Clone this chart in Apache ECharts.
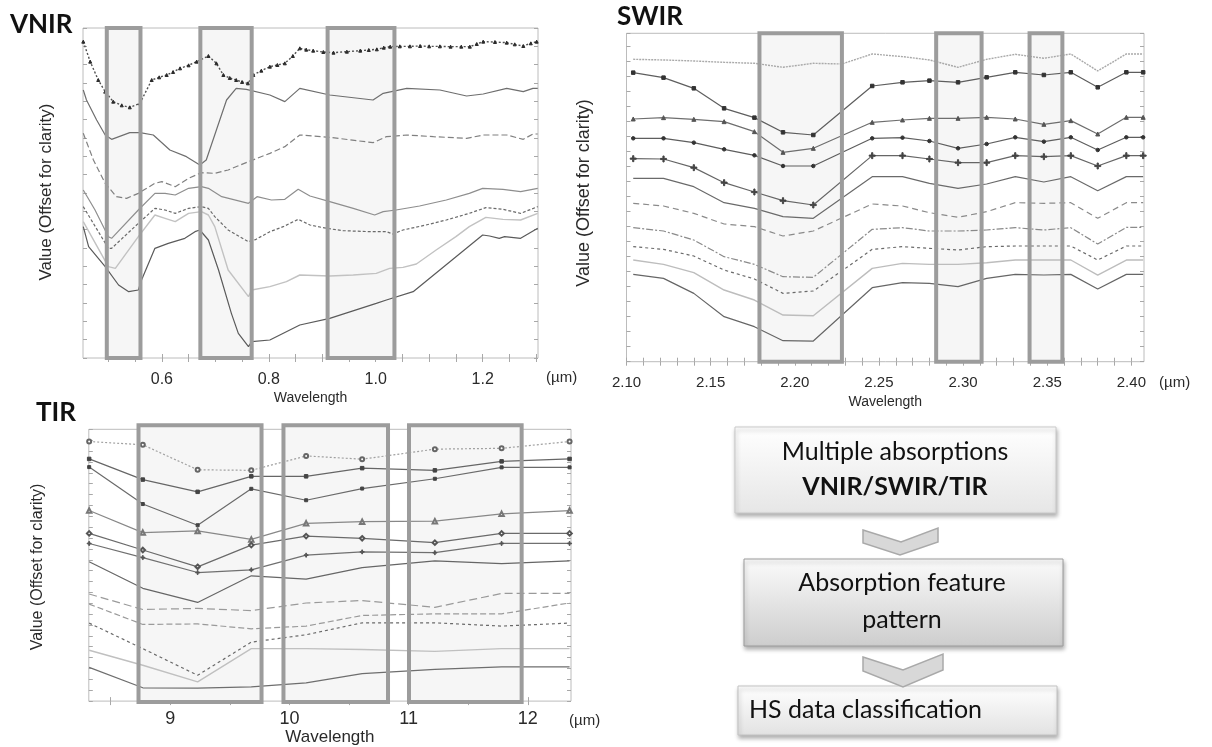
<!DOCTYPE html>
<html>
<head>
<meta charset="utf-8">
<title>Multiple absorptions VNIR/SWIR/TIR</title>
<script src="https://cdn.jsdelivr.net/npm/echarts@6/dist/echarts.min.js"></script>
<style>
  html, body { margin: 0; padding: 0; background: #fff; }
  #chart { width: 1212px; height: 747px; }
</style>
</head>
<body>
<div id="chart"></div>
<script>
// ---------- VNIR : [wavelength µm, offset value] ----------
const vnirBands = [[0.497, 0.560], [0.672, 0.768], [0.910, 1.035]];
const vnirTicks = [0.6, 0.8, 1.0, 1.2];
const vnirDotted = [[0.453,94.9],[0.466,88.9],[0.481,83.4],[0.494,79.9],[0.509,76.9],[0.525,75.8],[0.540,75.2],[0.559,76.4],[0.581,83.4],[0.595,84.2],[0.609,84.9],[0.621,85.8],[0.634,86.9],[0.650,87.8],[0.665,88.9],[0.687,90.6],[0.702,88.4],[0.715,84.9],[0.727,84.0],[0.739,83.4],[0.750,82.8],[0.761,82.4],[0.771,84.9],[0.786,86.2],[0.802,87.4],[0.816,87.9],[0.830,88.4],[0.845,90.6],[0.858,92.9],[0.870,92.5],[0.883,92.2],[0.902,91.8],[0.921,91.6],[0.946,91.9],[0.971,92.2],[0.987,92.4],[1.002,92.6],[1.015,93.1],[1.027,93.4],[1.045,93.5],[1.064,93.5],[1.083,93.6],[1.100,93.5],[1.120,93.5],[1.140,93.4],[1.160,93.4],[1.176,93.4],[1.189,94.2],[1.201,94.9],[1.223,94.8],[1.245,94.6],[1.260,94.1],[1.276,93.6],[1.290,94.4],[1.301,94.9]];
const vnirSolid = [[0.453,80.4],[0.459,77.4],[0.478,71.4],[0.494,66.9],[0.506,65.6],[0.540,67.6],[0.559,67.6],[0.584,66.9],[0.615,62.4],[0.646,60.4],[0.671,57.9],[0.683,59.4],[0.702,68.4],[0.721,77.4],[0.739,80.9],[0.758,80.6],[0.802,78.9],[0.830,76.9],[0.858,80.9],[0.914,78.9],[0.995,77.4],[1.014,79.4],[1.058,80.9],[1.120,80.4],[1.170,78.6],[1.201,79.2],[1.245,80.9],[1.276,79.9],[1.294,80.9],[1.303,80.9]];
const vnirDashed = [[0.453,67.4],[0.472,59.4],[0.494,52.4],[0.515,48.4],[0.534,47.9],[0.556,49.4],[0.587,52.4],[0.600,52.9],[0.625,51.4],[0.650,53.9],[0.674,55.6],[0.699,55.4],[0.724,56.4],[0.762,58.9],[0.802,61.4],[0.830,63.4],[0.858,66.9],[0.914,66.2],[0.995,64.6],[1.020,66.4],[1.058,66.9],[1.108,66.4],[1.170,65.9],[1.201,66.9],[1.245,66.9],[1.276,65.6],[1.294,67.2],[1.303,67.2]];
const vnirGrey = [[0.453,50.4],[0.475,44.4],[0.500,36.4],[0.506,35.9],[0.556,44.4],[0.587,49.4],[0.606,49.4],[0.625,48.9],[0.650,50.9],[0.674,51.4],[0.687,50.9],[0.712,48.4],[0.762,46.4],[0.778,48.4],[0.805,47.4],[0.830,47.6],[0.855,50.6],[0.877,48.6],[0.914,46.9],[0.958,44.9],[0.998,42.9],[1.014,43.9],[1.038,44.4],[1.082,45.6],[1.132,47.4],[1.175,49.4],[1.200,50.9],[1.238,50.6],[1.271,49.9],[1.303,50.9]];
const vnirShort = [[0.453,45.4],[0.500,32.9],[0.506,32.9],[0.556,40.4],[0.587,44.9],[0.606,44.4],[0.625,43.4],[0.650,44.9],[0.674,45.4],[0.687,44.9],[0.699,42.4],[0.724,38.4],[0.762,34.9],[0.775,35.5],[0.802,37.9],[0.827,39.4],[0.855,41.6],[0.877,39.9],[0.908,38.9],[0.939,38.2],[0.989,37.9],[1.020,37.9],[1.032,37.2],[1.051,38.4],[1.094,39.9],[1.132,41.4],[1.175,43.4],[1.206,45.1],[1.238,44.6],[1.271,43.4],[1.303,45.4]];
const vnirLight = [[0.453,40.9],[0.500,27.4],[0.513,26.9],[0.556,36.4],[0.587,42.9],[0.606,41.9],[0.625,40.9],[0.650,43.4],[0.674,43.9],[0.687,42.9],[0.699,39.4],[0.724,26.4],[0.762,18.4],[0.768,20.4],[0.802,21.4],[0.833,22.9],[0.858,24.9],[0.914,24.6],[0.958,24.9],[1.001,25.4],[1.026,26.9],[1.051,27.2],[1.076,28.2],[1.113,32.4],[1.150,36.4],[1.175,39.4],[1.206,42.2],[1.238,41.6],[1.271,41.4],[1.303,43.4]];
const vnirDark = [[0.453,39.4],[0.463,33.4],[0.494,27.4],[0.519,21.9],[0.538,19.9],[0.556,20.4],[0.562,23.4],[0.587,32.9],[0.612,34.4],[0.643,35.9],[0.662,37.9],[0.671,38.4],[0.687,35.4],[0.706,26.4],[0.730,13.4],[0.743,7.4],[0.762,3.4],[0.768,4.9],[0.802,5.4],[0.858,9.9],[0.914,11.9],[1.001,16.4],[1.020,17.4],[1.070,19.9],[1.200,36.9],[1.213,36.6],[1.231,35.9],[1.241,36.4],[1.271,35.9],[1.303,38.9]];

// ---------- SWIR ----------
const swirBands = [[2.179, 2.228], [2.284, 2.311], [2.3395, 2.359]];
const swirTicks = [2.10, 2.15, 2.20, 2.25, 2.30, 2.35, 2.40];
const swirWl = [2.104, 2.122, 2.140, 2.158, 2.176, 2.193, 2.211, 2.228, 2.246, 2.264, 2.280, 2.297, 2.314, 2.331, 2.348, 2.364, 2.380, 2.397, 2.407];
const swirA = [90.7, 90.5, 90.2, 89.8, 89.5, 88.3, 89.5, 89.3, 92.3, 91.5, 90.5, 88.3, 90.7, 92.2, 91.0, 92.3, 87.2, 92.3, 92.3];
const swirB = [86.7, 85.2, 82.0, 76.0, 73.2, 68.8, 68.0, null, 82.7, 83.8, 84.3, 83.8, 85.3, 86.8, 86.0, 86.8, 82.3, 86.8, 86.8];
const swirC = [72.8, 73.2, 72.7, 72.0, 69.0, 62.8, 64.0, null, 71.8, 72.5, 73.0, 73.0, 73.3, 72.8, 71.2, 72.3, 68.3, 73.3, 73.3];
const swirD = [67.0, 67.0, 65.7, 63.7, 61.9, 58.7, 58.7, null, 67.0, 67.2, 66.2, 64.0, 65.3, 67.3, 66.0, 67.3, 63.5, 67.3, 67.3];
const swirE = [60.9, 60.8, 58.2, 53.7, 50.9, 48.3, 47.0, null, 61.8, 61.8, 60.8, 59.7, 59.7, 61.8, 61.5, 61.8, 58.7, 61.8, 61.8];
const swirF = [55.0, 55.0, 52.5, 47.7, 46.0, 43.5, 43.0, null, 55.5, 55.5, 53.5, 52.0, 53.3, 55.5, 53.9, 55.5, 51.3, 55.5, 55.5];
const swirG = [47.5, 46.7, 44.5, 41.3, 40.5, 37.7, 39.2, null, 47.3, 46.7, 44.7, 43.3, 45.0, 47.7, 47.5, 47.7, 43.0, 47.7, 47.7];
const swirH = [40.2, 39.2, 36.5, 31.5, 29.2, 25.5, 25.3, null, 39.7, 40.2, 39.2, 39.2, 39.5, 40.2, 39.5, 40.2, 35.3, 40.3, 40.3];
const swirI = [34.5, 33.7, 31.7, 27.5, 24.8, 20.5, 21.2, null, 33.7, 34.5, 34.0, 33.5, 34.5, 34.7, 34.7, 34.7, 30.5, 34.7, 34.7];
const swirJ = [30.5, 29.2, 26.7, 21.5, 18.5, 14.0, 13.8, null, 28.0, 29.5, 29.2, 29.2, 29.7, 30.5, 30.5, 30.5, 26.0, 30.5, 30.5];
const swirK = [26.2, 25.0, 20.5, 13.5, 10.5, 6.3, 6.2, null, 22.2, 23.7, 23.5, 22.5, 25.0, 26.2, 26.0, 26.2, 21.8, 26.2, 26.2];

// ---------- TIR ----------
const tirBands = [[8.734, 9.766], [9.950, 10.827], [11.003, 11.948]];
const tirTicks = [9, 10, 11, 12];
const tirWl = [8.32, 8.77, 9.23, 9.68, 10.14, 10.61, 11.22, 11.78, 12.35];
const tir1 = [95.5, 94.3, 85.1, 84.9, 90.2, 89.0, 92.7, 93.0, 95.5];
const tir2 = [89.1, 81.5, 77.0, 82.7, 82.7, 85.7, 84.9, 88.2, 89.1];
const tir3 = [86.1, 72.5, 64.7, 78.1, 73.9, 78.2, 81.8, 86.0, 86.0];
const tir4 = [70.1, 62.0, 62.6, 59.5, 65.4, 66.0, 66.2, 68.9, 70.1];
const tir5 = [61.7, 55.6, 49.4, 57.4, 60.7, 59.9, 58.3, 61.7, 61.7];
const tir6 = [58.0, 52.8, 47.3, 48.3, 53.7, 54.9, 54.6, 58.0, 58.0];
const tir7 = [51.3, 41.5, 36.3, 46.1, 44.9, 49.1, 51.6, 50.6, 51.6];
const tir8 = [39.4, 33.7, 34.1, 33.3, 36.1, 37.0, 34.5, 39.6, 39.6];
const tir9 = [35.7, 28.2, 28.4, 26.6, 27.6, 31.5, 32.1, 32.1, 36.1];
const tir10 = [28.7, 19.3, 9.5, 21.7, 24.4, 28.8, 28.8, 27.6, 28.7];
const tir11 = [18.7, 13.2, 7.1, 19.3, 19.3, 19.0, 18.3, 19.3, 19.3];
const tir12 = [12.4, 4.9, 4.8, 5.2, 6.7, 10.1, 11.7, 12.6, 12.6];

const chart = echarts.init(document.getElementById('chart'));

const FRAME = '#bcbcbc';
const TICK = '#a8a8a8';
const TXT = '#2a2a2a';
const AXFONT = '"Liberation Sans", Arial, sans-serif';
const PLUS = 'path://M4,0h2v4h4v2h-4v4h-2v-4h-4v-2h4z';

// panel layout (pixels) and axis ranges
const panels = [
  {grid: {left: 83, top: 28, width: 455, height: 330}, x: [0.4525, 1.3035], y: [0, 99],
   labels: vnirTicks, step: 0.05, digits: 1, yStep: 5.5, font: 16, margin: 14, nameGap: 33, nameSize: 14, bands: vnirBands, pad: 0},
  {grid: {left: 626.5, top: 33.3, width: 517.5, height: 328.4}, x: [2.10, 2.4075], y: [0, 98.5],
   labels: swirTicks, step: 0.01, digits: 2, yStep: 4.5, font: 15, margin: 14, nameGap: 33, nameSize: 14, bands: swirBands, pad: 0},
  {grid: {left: 88.8, top: 429.3, width: 482.2, height: 273.4}, x: [8.317, 12.362], y: [0, 100],
   labels: tirTicks, step: 0.5, digits: 0, yStep: 4, font: 18, margin: 9, nameGap: 21, nameSize: 17, bands: tirBands, pad: 4}
];

function tickPositions(min, max, step) {
  const out = [];
  for (let v = Math.ceil(min / step - 1e-6) * step; v <= max + 1e-9; v += step) out.push(+v.toFixed(4));
  return out;
}

const grids = [], xAxes = [], yAxes = [];
panels.forEach((p, i) => {
  grids.push(Object.assign({show: true, borderColor: FRAME, borderWidth: 1, backgroundColor: '#fff'}, p.grid));
  const ticks = tickPositions(p.x[0], p.x[1], p.step);
  const baseX = {
    type: 'value', gridIndex: i, min: p.x[0], max: p.x[1],
    axisLine: {show: false}, splitLine: {show: false},
    axisTick: {show: true, inside: true, length: 4, customValues: ticks, lineStyle: {color: TICK}}
  };
  xAxes[i] = Object.assign({}, baseX, {
    position: 'bottom', name: 'Wavelength', nameLocation: 'middle', nameGap: p.nameGap,
    nameTextStyle: {color: TXT, fontSize: p.nameSize, fontFamily: AXFONT},
    axisLabel: {show: true, customValues: p.labels, margin: p.margin, color: TXT, fontSize: p.font, fontFamily: AXFONT,
      formatter: v => Number(v).toFixed(p.digits)}
  });
  xAxes[i + 3] = Object.assign({}, baseX, {position: 'top', axisLabel: {show: false}});
  const baseY = {
    type: 'value', gridIndex: i, min: p.y[0], max: p.y[1], interval: p.yStep,
    axisLine: {show: false}, splitLine: {show: false}, axisLabel: {show: false},
    axisTick: {show: true, inside: true, length: 4, lineStyle: {color: TICK}}
  };
  yAxes[i] = Object.assign({}, baseY, {position: 'left'});
  yAxes[i + 3] = Object.assign({}, baseY, {position: 'right'});
});

// highlighted absorption windows
function bandSeries(p, i, fill) {
  return {
    type: 'custom', xAxisIndex: i, yAxisIndex: i, silent: true, z: fill ? 1 : 6,
    data: p.bands,
    renderItem(params, api) {
      const a = api.coord([api.value(0), p.y[0]]);
      const b = api.coord([api.value(1), p.y[0]]);
      const cs = params.coordSys;
      return {
        type: 'rect',
        shape: {x: a[0], y: cs.y - p.pad, width: b[0] - a[0], height: cs.height + p.pad + (p.pad ? 1 : 0)},
        style: fill ? {fill: '#f6f6f6'} : {fill: 'none', stroke: '#9c9c9c', lineWidth: 4}
      };
    }
  };
}

function line(i, data, color, opt) {
  opt = opt || {};
  return {
    type: 'line', xAxisIndex: i, yAxisIndex: i, data, z: 3, silent: true,
    connectNulls: true, showAllSymbol: true,
    symbol: opt.symbol || 'none', symbolSize: opt.size || 4,
    itemStyle: {color: opt.markColor || color, borderColor: opt.markColor || color, borderWidth: 1},
    lineStyle: {color, width: opt.width || 1.2, type: opt.dash || 'solid'}
  };
}
const zip = (xs, ys) => xs.map((x, k) => [x, ys[k]]);

const series = [];
panels.forEach((p, i) => series.push(bandSeries(p, i, true)));

// VNIR
series.push(
  line(0, vnirDotted, '#505050', {dash: [2, 2], width: 1.4, symbol: 'triangle', size: 3, markColor: '#2a2a2a'}),
  line(0, vnirSolid, '#6e6e6e'),
  line(0, vnirDashed, '#808080', {dash: [6, 3]}),
  line(0, vnirGrey, '#8e8e8e'),
  line(0, vnirShort, '#6a6a6a', {dash: [3, 2]}),
  line(0, vnirLight, '#c2c2c2', {width: 1.4}),
  line(0, vnirDark, '#5a5a5a')
);

// SWIR
series.push(
  line(1, zip(swirWl, swirA), '#a9a9a9', {dash: [2, 1], width: 1.4}),
  line(1, zip(swirWl, swirB), '#5e5e5e', {symbol: 'rect', size: 3.5, markColor: '#333'}),
  line(1, zip(swirWl, swirC), '#6e6e6e', {symbol: 'triangle', size: 4, markColor: '#555'}),
  line(1, zip(swirWl, swirD), '#5e5e5e', {symbol: 'circle', size: 3.5, markColor: '#333'}),
  line(1, zip(swirWl, swirE), '#666666', {symbol: PLUS, size: 6, markColor: '#444'}),
  line(1, zip(swirWl, swirF), '#6a6a6a'),
  line(1, zip(swirWl, swirG), '#8a8a8a', {dash: [6, 4]}),
  line(1, zip(swirWl, swirH), '#8a8a8a', {dash: [7, 2, 2, 2]}),
  line(1, zip(swirWl, swirI), '#6a6a6a', {dash: [3, 3]}),
  line(1, zip(swirWl, swirJ), '#bdbdbd', {width: 1.4}),
  line(1, zip(swirWl, swirK), '#666666')
);

// TIR
series.push(
  line(2, zip(tirWl, tir1), '#a0a0a0', {dash: [2, 2], symbol: 'emptyCircle', size: 4, markColor: '#666'}),
  line(2, zip(tirWl, tir2), '#666666', {symbol: 'rect', size: 3.5, markColor: '#444'}),
  line(2, zip(tirWl, tir3), '#6a6a6a', {symbol: 'rect', size: 3, markColor: '#444'}),
  line(2, zip(tirWl, tir4), '#888888', {symbol: 'emptyTriangle', size: 4.5, markColor: '#777'}),
  line(2, zip(tirWl, tir5), '#6a6a6a', {symbol: 'emptyDiamond', size: 4.5, markColor: '#555'}),
  line(2, zip(tirWl, tir6), '#707070', {symbol: PLUS, size: 4, markColor: '#555'}),
  line(2, zip(tirWl, tir7), '#666666'),
  line(2, zip(tirWl, tir8), '#9a9a9a', {dash: [8, 4]}),
  line(2, zip(tirWl, tir9), '#9a9a9a', {dash: [6, 3]}),
  line(2, zip(tirWl, tir10), '#6a6a6a', {dash: [3, 3]}),
  line(2, zip(tirWl, tir11), '#c0c0c0', {width: 1.4}),
  line(2, zip(tirWl, tir12), '#6e6e6e')
);

panels.forEach((p, i) => series.push(bandSeries(p, i, false)));

// panel titles, y titles, units and the flow chart
const TITLE = 'bold 26px Lato, "Open Sans", sans-serif';
const FLOW = '25px Lato, "Open Sans", sans-serif';
const grad = (a, b) => new echarts.graphic.LinearGradient(0, 0, 0, 1, [{offset: 0, color: a}, {offset: 1, color: b}]);
const shadow = {shadowBlur: 4, shadowOffsetX: 1, shadowOffsetY: 3, shadowColor: 'rgba(0,0,0,0.3)'};
const yTitle = (x, y, size) => ({
  type: 'text', x, y, rotation: Math.PI / 2,
  style: {text: 'Value (Offset for clarity)', align: 'center', verticalAlign: 'middle', fill: TXT, font: size + 'px ' + AXFONT}
});
const unit = (x, y, size) => ({type: 'text', x, y, style: {text: '(\u00b5m)', align: 'left', verticalAlign: 'middle', fill: TXT, font: size + 'px ' + AXFONT}});

const graphic = [
  {type: 'text', x: 10, y: 25, style: {text: 'VNIR', font: TITLE, fill: '#111', verticalAlign: 'middle'}},
  {type: 'text', x: 617, y: 17, style: {text: 'SWIR', font: TITLE, fill: '#111', verticalAlign: 'middle'}},
  {type: 'text', x: 36, y: 413, style: {text: 'TIR', font: TITLE, fill: '#111', verticalAlign: 'middle'}},
  yTitle(46, 192, 17), yTitle(584, 193, 18), yTitle(38, 567, 16),
  unit(546, 378, 15), unit(1159, 383, 15), unit(569, 721, 15),

  {type: 'rect', shape: {x: 735, y: 427, width: 321, height: 86}, style: Object.assign({fill: grad('#ffffff', '#e6e6e6'), stroke: '#c9c9c9', lineWidth: 1}, shadow)},
  {type: 'text', x: 895, y: 452, style: {text: 'Multiple absorptions', font: FLOW, fill: '#111', align: 'center', verticalAlign: 'middle'}},
  {type: 'text', x: 895, y: 487, style: {text: 'VNIR/SWIR/TIR', font: 'bold ' + FLOW, fill: '#111', align: 'center', verticalAlign: 'middle'}},
  {type: 'polygon', shape: {points: [[863, 530], [901, 542], [938, 528], [938, 542], [900, 555], [863, 543]]}, style: {fill: '#d8d8d8', stroke: '#a9a9a9', lineWidth: 1.5}},

  {type: 'rect', shape: {x: 744, y: 559, width: 319, height: 87}, style: Object.assign({fill: grad('#fbfbfb', '#cdcdcd'), stroke: '#9c9c9c', lineWidth: 1}, shadow)},
  {type: 'text', x: 902, y: 583, style: {text: 'Absorption feature', font: FLOW, fill: '#111', align: 'center', verticalAlign: 'middle'}},
  {type: 'text', x: 902, y: 620, style: {text: 'pattern', font: FLOW, fill: '#111', align: 'center', verticalAlign: 'middle'}},

  {type: 'rect', shape: {x: 738, y: 686, width: 319, height: 49}, style: Object.assign({fill: grad('#ffffff', '#e2e2e2'), stroke: '#c2c2c2', lineWidth: 1}, shadow)},
  {type: 'text', x: 749, y: 710, style: {text: 'HS data classification', font: FLOW, fill: '#111', align: 'left', verticalAlign: 'middle'}},
  {type: 'polygon', shape: {points: [[863, 657], [903, 670], [943, 654], [943, 670], [903, 687], [863, 671]]}, style: {fill: '#d8d8d8', stroke: '#a9a9a9', lineWidth: 1.5}}
];

chart.setOption({
  animation: false,
  backgroundColor: '#fff',
  grid: grids,
  xAxis: xAxes,
  yAxis: yAxes,
  series,
  graphic
});
</script>
</body>
</html>
